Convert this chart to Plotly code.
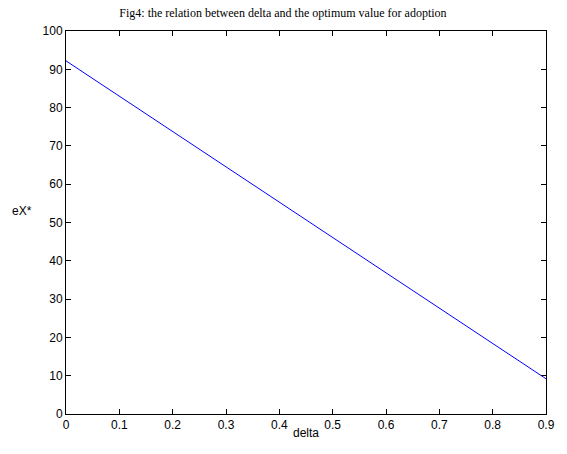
import plotly.graph_objects as go

delta = [0.0, 0.1, 0.2, 0.3, 0.4, 0.5, 0.6, 0.7, 0.8, 0.9]
ex_star = [92.2, 83.0, 73.8, 64.5, 55.3, 46.1, 36.9, 27.7, 18.4, 9.2]

x_ticks = [0, 0.1, 0.2, 0.3, 0.4, 0.5, 0.6, 0.7, 0.8, 0.9]
x_tick_labels = ["0", "0.1", "0.2", "0.3", "0.4", "0.5", "0.6", "0.7", "0.8", "0.9"]
y_ticks = [0, 10, 20, 30, 40, 50, 60, 70, 80, 90, 100]

sans = "Liberation Sans, Arial"
fig = go.Figure()
fig.add_trace(go.Scatter(x=delta, y=ex_star, mode="lines",
                         line=dict(color="#0000ff", width=1), showlegend=False))

axis_common = dict(showgrid=False, zeroline=False, showline=True, linecolor="black",
                   linewidth=1, mirror="ticks", ticks="inside", ticklen=5,
                   tickcolor="black", tickfont=dict(family=sans, size=12, color="black"))

fig.update_xaxes(range=[0, 0.9], tickvals=x_ticks, ticktext=x_tick_labels, **axis_common)
fig.update_yaxes(range=[0, 100], tickvals=y_ticks, **axis_common)

fig.add_annotation(text="eX*", xref="paper", yref="paper", x=-0.092, y=0.53,
                   xanchor="center", yanchor="middle", showarrow=False,
                   font=dict(family=sans, size=12, color="black"))
fig.add_annotation(text="delta", xref="paper", yref="paper", x=0.5, y=-0.05,
                   xanchor="center", yanchor="middle", showarrow=False,
                   font=dict(family=sans, size=12, color="black"))

fig.update_layout(
    width=567, height=454, autosize=False,
    margin=dict(l=66, r=14, t=31, b=40),
    paper_bgcolor="white", plot_bgcolor="white",
    title=dict(text="Fig4: the relation between delta and the optimum value for adoption",
               x=0.499, xanchor="center", y=0.971, yanchor="middle",
               font=dict(family="Liberation Serif, Times New Roman", size=12, color="black")),
)

fig.write_html("out.html", config={"displayModeBar": False},
               post_script="document.body.style.margin='0';document.body.style.overflow='hidden';document.documentElement.style.overflow='hidden';")
